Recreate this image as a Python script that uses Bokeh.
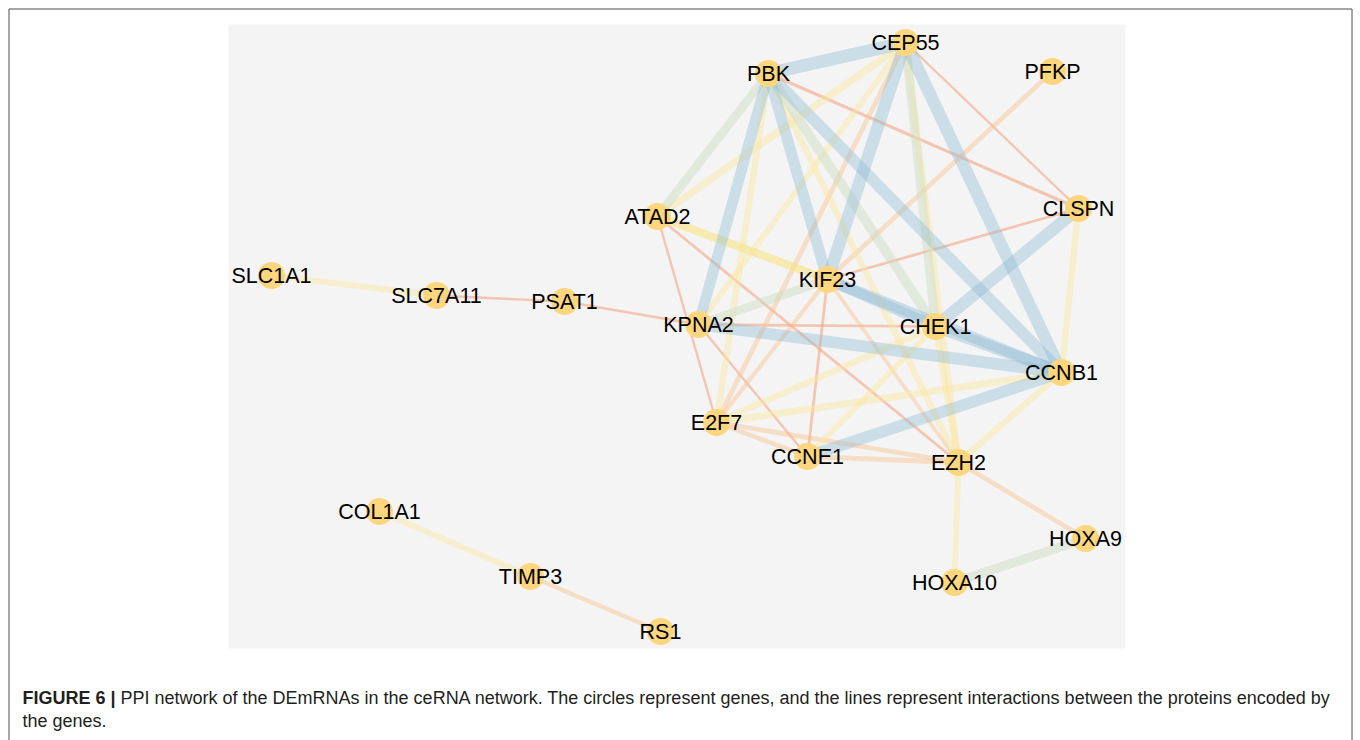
from bokeh.plotting import figure
from bokeh.models import Range1d, Label, ColumnDataSource
from bokeh.core.properties import value
from bokeh.embed import file_html
from bokeh.resources import INLINE

# ---- network data (layout coordinates) ----
node_names = ["CEP55", "PBK", "PFKP", "ATAD2", "CLSPN", "KIF23", "KPNA2", "CHEK1",
              "CCNB1", "E2F7", "CCNE1", "EZH2", "HOXA9", "HOXA10", "SLC1A1",
              "SLC7A11", "PSAT1", "COL1A1", "TIMP3", "RS1"]
node_x = [905, 768, 1052, 657, 1078, 827, 698, 935, 1061, 716, 807, 958, 1085, 954,
          271, 436, 564, 379, 530, 660]
node_y = [42, 73, 71, 216, 208, 279, 324, 326, 372, 422, 456, 462, 538, 582,
          275, 295, 301, 511, 576, 631]

edge_source = ["SLC1A1", "SLC7A11", "PSAT1", "COL1A1", "TIMP3", "EZH2", "EZH2", "HOXA10",
               "PBK", "CEP55", "CEP55", "PBK", "PBK", "PBK", "CLSPN", "CHEK1", "KPNA2",
               "CCNE1", "KIF23", "KIF23", "PBK", "PBK", "CEP55", "KPNA2", "CEP55", "ATAD2",
               "CEP55", "PBK", "PBK", "E2F7", "E2F7", "CLSPN", "EZH2", "EZH2", "CCNE1",
               "CEP55", "PFKP", "E2F7", "E2F7", "CCNE1", "KIF23", "CEP55", "KIF23", "PBK",
               "CEP55", "KIF23", "KPNA2", "KPNA2", "ATAD2", "ATAD2", "KIF23"]
edge_target = ["SLC7A11", "PSAT1", "KPNA2", "TIMP3", "RS1", "HOXA9", "HOXA10", "HOXA9",
               "CEP55", "KIF23", "CCNB1", "KPNA2", "KIF23", "CCNB1", "CHEK1", "CCNB1", "CCNB1",
               "CCNB1", "CCNB1", "CHEK1", "CHEK1", "ATAD2", "CHEK1", "KIF23", "ATAD2", "KIF23",
               "EZH2", "EZH2", "E2F7", "CHEK1", "CCNB1", "CCNB1", "CCNB1", "CHEK1", "CHEK1",
               "KPNA2", "KIF23", "CCNE1", "EZH2", "EZH2", "E2F7", "E2F7", "EZH2", "CLSPN",
               "CLSPN", "CLSPN", "CHEK1", "CCNE1", "E2F7", "EZH2", "CCNE1"]
edge_score = [0.62, 0.42, 0.42, 0.62, 0.52, 0.55, 0.62, 0.80,
              0.999, 0.97, 0.97, 0.88, 0.90, 0.93, 0.96, 0.92, 0.93,
              0.92, 0.90, 0.89, 0.82, 0.76, 0.78, 0.76, 0.70, 0.74,
              0.66, 0.64, 0.64, 0.64, 0.68, 0.64, 0.64, 0.66, 0.62,
              0.62, 0.55, 0.55, 0.55, 0.56, 0.52, 0.56, 0.50, 0.46,
              0.42, 0.44, 0.44, 0.42, 0.42, 0.44, 0.44]

caption_bold = "FIGURE 6 |"
caption_line1 = ("PPI network of the DEmRNAs in the ceRNA network. The circles represent genes, "
                 "and the lines represent interactions between the proteins encoded by")
caption_line2 = "the genes."

# ---- styling helpers ----
def edge_style(s):
    width = 2 + (s - 0.4) / 0.6 * 11
    if s < 0.5:
        return "#f4a582", 0.6, width
    if s < 0.6:
        return "#f8c08f", 0.45, width
    if s < 0.73:
        return "#fbe7a0", 0.45, width
    if s < 0.75:
        return "#f7e27a", 0.55, width
    if s < 0.86:
        return "#c9dcc0", 0.45, width
    return "#8fbcd4", 0.4, width

pos = {n: (x, y) for n, x, y in zip(node_names, node_x, node_y)}
order = sorted(range(len(edge_score)), key=lambda i: edge_score[i])
xs, ys, cols, alphas, widths = [], [], [], [], []
for i in order:
    a, b = pos[edge_source[i]], pos[edge_target[i]]
    c, al, w = edge_style(edge_score[i])
    xs.append([a[0], b[0]]); ys.append([a[1], b[1]])
    cols.append(c); alphas.append(al); widths.append(w)

W, H = 1360, 740
p = figure(width=W, height=H, x_range=Range1d(0, W), y_range=Range1d(H, 0),
           output_backend="svg", toolbar_location=None, min_border=0,
           x_axis_location=None, y_axis_location=None)
p.grid.visible = False
p.outline_line_color = None
p.background_fill_color = "white"
p.border_fill_color = "white"

# outer frame (left, top, right)
p.line(x=[8.5, 8.5, 1351.5, 1351.5], y=[H, 8.5, 8.5, H], line_color="#4d4d4d", line_width=1)
# grey network panel
p.quad(left=228, right=1125, top=24, bottom=648, fill_color="#f4f4f4", line_color=None)

p.multi_line(xs="xs", ys="ys", line_color="c", line_alpha="a", line_width="w",
             source=ColumnDataSource(dict(xs=xs, ys=ys, c=cols, a=alphas, w=widths)))

nsrc = ColumnDataSource(dict(x=node_x, y=node_y, name=node_names))
p.scatter(x="x", y="y", size=27, fill_color="#fed67e", line_color=None, source=nsrc)
p.text(x="x", y="y", text="name", source=nsrc, text_font=value("Liberation Sans"),
       text_font_size="21.5px", text_align="center", text_baseline="middle", text_color="black")

cap_color = "#231f20"
p.add_layout(Label(x=22, y=697, text=caption_bold, text_font="Liberation Sans",
                   text_font_style="bold", text_font_size="18px", text_baseline="middle",
                   text_color=cap_color))
p.add_layout(Label(x=120, y=697, text=caption_line1, text_font="Liberation Sans",
                   text_font_size="18px", text_baseline="middle", text_color=cap_color))
p.add_layout(Label(x=22, y=720, text=caption_line2, text_font="Liberation Sans",
                   text_font_size="18px", text_baseline="middle", text_color=cap_color))

open("out.html", "w").write(file_html(p, INLINE))
